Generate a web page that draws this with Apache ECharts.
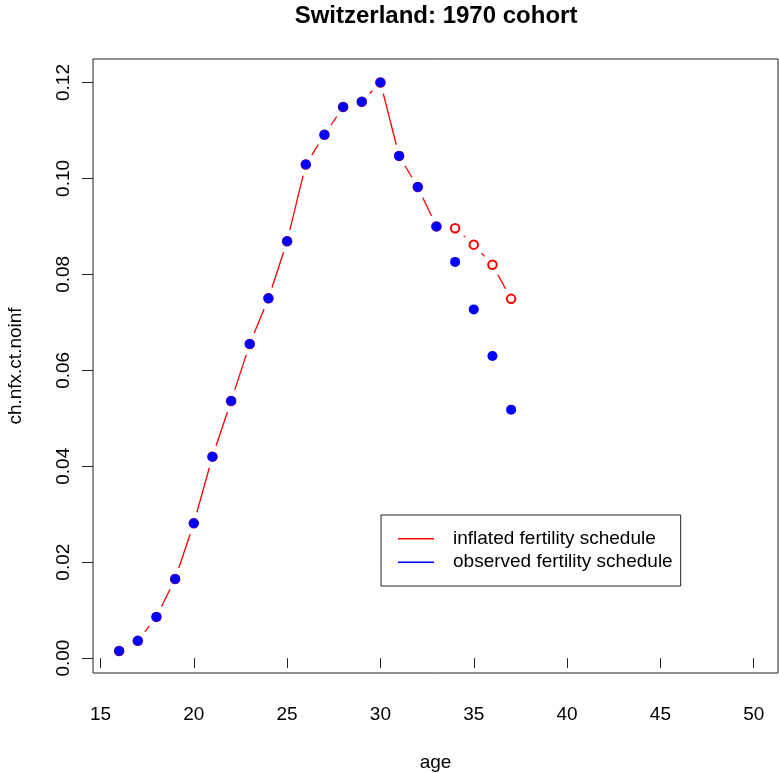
<!DOCTYPE html>
<html>
<head>
<meta charset="utf-8">
<title>Switzerland: 1970 cohort</title>
<script src="https://cdn.jsdelivr.net/npm/echarts@6/dist/echarts.min.js"></script>
<style>
  html, body { margin: 0; padding: 0; background: #fff; }
  #chart { width: 779px; height: 773px; }
</style>
</head>
<body>
<div id="chart"></div>
<script>
// Age-specific fertility rates, Swiss women born 1970
const ages = [16, 17, 18, 19, 20, 21, 22, 23, 24, 25, 26, 27, 28, 29, 30, 31, 32, 33, 34, 35, 36, 37];
const observed = [0.0015, 0.0036, 0.0086, 0.0165, 0.0281, 0.0420, 0.0536, 0.0655, 0.0750, 0.0869,
                  0.1029, 0.1091, 0.1149, 0.1160, 0.1200, 0.1047, 0.0982, 0.0900,
                  0.0826, 0.0727, 0.0630, 0.0518];
const inflated = [0.0015, 0.0036, 0.0086, 0.0165, 0.0281, 0.0420, 0.0536, 0.0655, 0.0750, 0.0869,
                  0.1029, 0.1091, 0.1149, 0.1160, 0.1200, 0.1047, 0.0982, 0.0900,
                  0.0896, 0.0862, 0.0820, 0.0749];
const xTicks = [15, 20, 25, 30, 35, 40, 45, 50];
const yTicks = [0.00, 0.02, 0.04, 0.06, 0.08, 0.10, 0.12];

const seriesNames = ['inflated fertility schedule', 'observed fertility schedule'];
const RED = '#FF0000';
const BLUE = '#0000FF';
const FONT = '"Liberation Sans", Arial, Helvetica, sans-serif';

const inflatedPts = ages.map((a, i) => [a, inflated[i]]);
const observedPts = ages.map((a, i) => [a, observed[i]]);

// "both" style line: segments between consecutive points, leaving a gap around each point
const GAP = 11.5;
function renderGappedSegment(params, api) {
  const i = params.dataIndex;
  if (i === 0) return null;
  const p0 = api.coord([inflatedPts[i - 1][0], inflatedPts[i - 1][1]]);
  const p1 = api.coord([api.value(0), api.value(1)]);
  const dx = p1[0] - p0[0], dy = p1[1] - p0[1];
  const d = Math.sqrt(dx * dx + dy * dy);
  if (d <= 2 * GAP) return null;
  const ux = dx / d, uy = dy / d;
  return {
    type: 'line',
    shape: {
      x1: p0[0] + ux * GAP, y1: p0[1] + uy * GAP,
      x2: p1[0] - ux * GAP, y2: p1[1] - uy * GAP
    },
    style: { stroke: RED, lineWidth: 1.3 }
  };
}

const chart = echarts.init(document.getElementById('chart'), null, { renderer: 'canvas' });

chart.setOption({
  animation: false,
  backgroundColor: '#fff',
  textStyle: { fontFamily: FONT },
  title: {
    text: 'Switzerland: 1970 cohort',
    left: 431, textAlign: 'center',
    top: -1,
    textStyle: { fontFamily: FONT, fontWeight: 'bold', fontSize: 24, color: '#000' }
  },
  grid: {
    left: 93, right: 1, top: 59, bottom: 100,
    outerBoundsMode: 'none',
    containLabel: false,
    show: true, borderColor: '#222', borderWidth: 1, backgroundColor: 'transparent'
  },
  legend: {
    orient: 'vertical',
    left: 381, top: 515,
    padding: [12, 8, 12, 17],
    itemGap: 0,
    itemWidth: 36, itemHeight: 1.5,
    borderColor: '#222', borderWidth: 1,
    backgroundColor: '#fff',
    textStyle: { fontFamily: FONT, fontSize: 19, color: '#000', lineHeight: 23.5, padding: [0, 0, 0, 14] },
    selectedMode: false,
    data: [
      { name: seriesNames[0], icon: 'rect', itemStyle: { color: RED, opacity: 1, borderWidth: 0 } },
      { name: seriesNames[1], icon: 'rect', itemStyle: { color: BLUE, opacity: 1, borderWidth: 0 } }
    ]
  },
  xAxis: {
    type: 'value',
    min: 14.6, max: 51.3,
    name: 'age',
    nameLocation: 'middle',
    nameGap: 80,
    nameTextStyle: { fontFamily: FONT, fontSize: 19, color: '#000' },
    axisLine: { show: false },
    splitLine: { show: false },
    axisTick: {
      show: true, inside: false, length: 10,
      customValues: xTicks,
      lineStyle: { color: '#222', width: 1 }
    },
    axisLabel: {
      customValues: xTicks,
      margin: 32,
      fontFamily: FONT, fontSize: 19, color: '#000',
      formatter: v => String(v)
    }
  },
  yAxis: {
    type: 'value',
    min: -0.0031, max: 0.1249,
    name: 'ch.nfx.ct.noinf',
    nameLocation: 'middle',
    nameGap: 68,
    nameRotate: 90,
    nameTextStyle: { fontFamily: FONT, fontSize: 19, color: '#000' },
    axisLine: { show: false },
    splitLine: { show: false },
    axisTick: {
      show: true, inside: false, length: 11,
      customValues: yTicks,
      lineStyle: { color: '#222', width: 1 }
    },
    axisLabel: {
      customValues: yTicks,
      rotate: 90,
      margin: 20,
      fontFamily: FONT, fontSize: 19, color: '#000',
      formatter: v => v.toFixed(2)
    }
  },
  series: [
    {
      name: seriesNames[0],
      type: 'custom',
      renderItem: renderGappedSegment,
      data: inflatedPts,
      z: 1,
      silent: true
    },
    {
      name: seriesNames[0],
      type: 'scatter',
      data: inflatedPts,
      symbol: 'emptyCircle',
      symbolSize: 8.5,
      itemStyle: { color: RED, borderColor: RED, borderWidth: 1.2, opacity: 1 },
      z: 2,
      silent: true
    },
    {
      name: seriesNames[1],
      type: 'scatter',
      data: observedPts,
      symbol: 'circle',
      symbolSize: 10,
      itemStyle: { color: BLUE, opacity: 1 },
      z: 3,
      silent: true
    }
  ]
});
</script>
</body>
</html>
